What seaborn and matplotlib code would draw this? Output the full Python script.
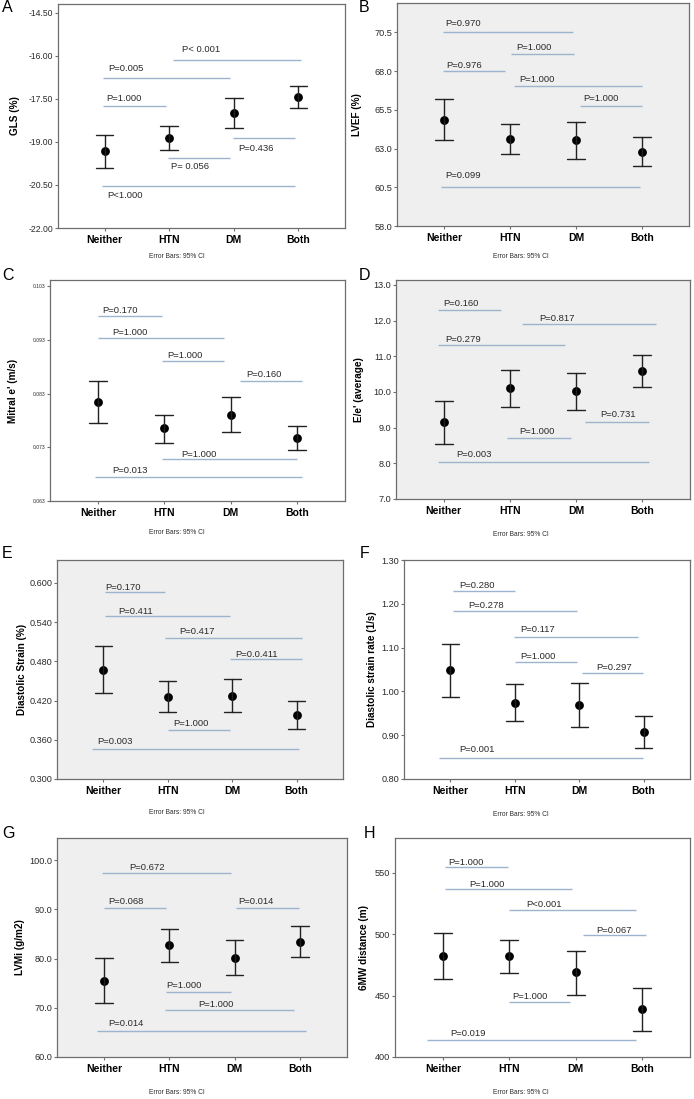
"""
plot.py
-------
Eight SPSS-style mean / 95% CI panels (A-H) comparing Neither, HTN, DM, Both
with the pairwise P-value brackets drawn over them.
"""

import matplotlib
matplotlib.use("Agg")
import matplotlib.pyplot as plt
import numpy as np
import pandas as pd
import seaborn as sns

# ── Data ──────────────────────────────────────────────────────────────────────
GROUPS = ["Neither", "HTN", "DM", "Both"]

# A  GLS (%)
GLS_MEAN  = [-19.33, -18.86, -17.99, -17.43]
GLS_LOW   = [-19.90, -19.29, -18.52, -17.80]
GLS_HIGH  = [-18.77, -18.44, -17.48, -17.06]
GLS_TICKS = [-22.0, -20.5, -19.0, -17.5, -16.0, -14.5]
# label, line y, line from, line to, text x, text y
GLS_P = [
    ("P< 0.001", -16.13, 1.06, 3.04, 1.20, -15.77),
    ("P=0.005",  -16.76, -0.02, 1.94, 0.06, -16.44),
    ("P=1.000",  -17.73, -0.02, 0.95, 0.03, -17.49),
    ("P=0.436",  -18.87, 1.98, 2.95, 2.07, -19.23),
    ("P= 0.056", -19.55, 0.98, 1.94, 1.03, -19.87),
    ("P<1.000",  -20.52, -0.04, 2.94, 0.04, -20.85),
]

# B  LVEF (%)
LVEF_MEAN  = [64.87, 63.63, 63.54, 62.78]
LVEF_LOW   = [63.54, 62.66, 62.33, 61.86]
LVEF_HIGH  = [66.19, 64.57, 64.72, 63.73]
LVEF_TICKS = [58.0, 60.5, 63.0, 65.5, 68.0, 70.5]
LVEF_P = [
    ("P=0.970", 70.54, -0.02, 1.95, 0.02, 71.08),
    ("P=1.000", 69.10, 1.02, 1.97, 1.09, 69.53),
    ("P=0.976", 68.00, -0.02, 0.92, 0.03, 68.35),
    ("P=1.000", 67.07, 1.06, 3.00, 1.14, 67.49),
    ("P=1.000", 65.78, 2.06, 3.00, 2.11, 66.23),
    ("P=0.099", 60.52, -0.05, 2.97, 0.02, 61.28),
]

# C  Mitral e' (m/s)
EPRIME_MEAN  = [0.0815, 0.0766, 0.0791, 0.0747]
EPRIME_LOW   = [0.0776, 0.0739, 0.0758, 0.0726]
EPRIME_HIGH  = [0.0853, 0.0791, 0.0823, 0.0769]
EPRIME_TICKS = [0.063, 0.073, 0.083, 0.093, 0.103]
EPRIME_P = [
    ("P=0.170", 0.0975, 0.00, 0.96, 0.07, 0.0986),
    ("P=1.000", 0.0934, 0.00, 1.90, 0.21, 0.0945),
    ("P=1.000", 0.0891, 0.97, 1.90, 1.05, 0.0902),
    ("P=0.160", 0.0854, 2.14, 3.07, 2.24, 0.0865),
    ("P=1.000", 0.0709, 0.97, 3.00, 1.26, 0.0717),
    ("P=0.013", 0.0674, -0.05, 3.07, 0.21, 0.0687),
]

# D  E/e' (average)
EE_MEAN  = [9.15, 10.11, 10.03, 10.59]
EE_LOW   = [8.53, 9.58, 9.50, 10.13]
EE_HIGH  = [9.75, 10.61, 10.54, 11.05]
EE_TICKS = [7.0, 8.0, 9.0, 10.0, 11.0, 12.0, 13.0]
EE_P = [
    ("P=0.160", 12.29, -0.09, 0.87, -0.01, 12.47),
    ("P=0.817", 11.90, 1.18, 3.20, 1.44, 12.06),
    ("P=0.279", 11.31, -0.09, 1.83, 0.03, 11.46),
    ("P=0.731", 9.17, 2.14, 3.10, 2.37, 9.36),
    ("P=1.000", 8.71, 0.96, 1.93, 1.14, 8.89),
    ("P=0.003", 8.04, -0.09, 3.10, 0.19, 8.24),
]

# E  Diastolic Strain (%)
DS_MEAN  = [0.467, 0.426, 0.427, 0.398]
DS_LOW   = [0.431, 0.403, 0.402, 0.376]
DS_HIGH  = [0.503, 0.450, 0.453, 0.419]
DS_TICKS = [0.300, 0.360, 0.420, 0.480, 0.540, 0.600]
DS_P = [
    ("P=0.170",   0.5868, 0.02, 0.96, 0.03, 0.5929),
    ("P=0.411",   0.5486, 0.02, 1.97, 0.23, 0.5568),
    ("P=0.417",   0.5151, 0.96, 3.08, 1.18, 0.5253),
    ("P=0.0.411", 0.4836, 1.96, 3.08, 2.04, 0.4912),
    ("P=1.000",   0.3753, 1.00, 1.97, 1.08, 0.3844),
    ("P=0.003",   0.3458, -0.18, 3.04, -0.09, 0.3575),
]

# F  Diastolic strain rate (1/s)
DSR_MEAN  = [1.048, 0.974, 0.969, 0.908]
DSR_LOW   = [0.988, 0.932, 0.918, 0.871]
DSR_HIGH  = [1.108, 1.016, 1.020, 0.944]
DSR_TICKS = [0.80, 0.90, 1.00, 1.10, 1.20, 1.30]
DSR_P = [
    ("P=0.280", 1.2286, 0.04, 1.00, 0.14, 1.2422),
    ("P=0.278", 1.1845, 0.04, 1.96, 0.27, 1.1951),
    ("P=0.117", 1.1252, 0.99, 2.91, 1.08, 1.1412),
    ("P=1.000", 1.0667, 1.01, 1.96, 1.08, 1.0804),
    ("P=0.297", 1.0416, 2.04, 2.99, 2.27, 1.0545),
    ("P=0.001", 0.8479, -0.17, 2.99, 0.14, 0.8684),
]

# G  LVMi (g/m2)
LVMI_MEAN  = [75.54, 82.70, 80.20, 83.45]
LVMI_LOW   = [71.01, 79.26, 76.62, 80.41]
LVMI_HIGH  = [80.07, 86.08, 83.78, 86.55]
LVMI_TICKS = [60.0, 70.0, 80.0, 90.0, 100.0]
LVMI_P = [
    ("P=0.672", 97.30, -0.03, 1.94, 0.39, 98.45),
    ("P=0.068", 90.20, 0.00, 0.95, 0.06, 91.62),
    ("P=0.014", 90.20, 2.02, 2.99, 2.06, 91.62),
    ("P=1.000", 73.18, 0.95, 1.94, 0.96, 74.46),
    ("P=1.000", 69.53, 0.94, 2.91, 1.44, 70.61),
    ("P=0.014", 65.34, -0.11, 3.09, 0.06, 66.89),
]

# H  6MW distance (m)
SMW_MEAN  = [482.0, 482.0, 469.1, 439.0]
SMW_LOW   = [463.4, 468.2, 450.6, 421.4]
SMW_HIGH  = [500.7, 495.6, 486.7, 456.1]
SMW_TICKS = [400, 450, 500, 550]
SMW_P = [
    ("P=1.000", 555.1, 0.04, 0.98, 0.08, 558.9),
    ("P=1.000", 536.7, 0.04, 1.95, 0.40, 540.5),
    ("P<0.001", 520.2, 0.99, 2.90, 1.26, 524.5),
    ("P=0.067", 499.6, 2.11, 3.06, 2.31, 503.4),
    ("P=1.000", 444.9, 0.99, 1.91, 1.04, 449.3),
    ("P=0.019", 413.8, -0.24, 2.90, 0.11, 419.5),
]

# ── Style ─────────────────────────────────────────────────────────────────────
W, H = 694, 1099
GREY_BG   = "#EFEFEF"
SPINE_C   = "#6E6E6E"
BRACKET_C = "#9DB4D0"
TEXT_C    = "#2A2A2A"

sns.set_theme(style="white")
plt.rcParams["font.family"] = ["Liberation Sans", "DejaVu Sans"]

# letter, ylabel, mean, low, high, ticks, tick fmt, ylim, brackets,
# grey bg, axes box px (l, t, r, b), ylabel x, tick size
PANELS = [
    ("A", "GLS (%)", GLS_MEAN, GLS_LOW, GLS_HIGH, GLS_TICKS, "{:.2f}",
     (-22.0, -14.19), GLS_P, False, (58, 4, 345, 228), -0.132, 6.2),
    ("B", "LVEF (%)", LVEF_MEAN, LVEF_LOW, LVEF_HIGH, LVEF_TICKS, "{:.1f}",
     (58.0, 72.4), LVEF_P, True, (397, 3, 689, 226), -0.12, 6.6),
    ("C", "Mitral e' (m/s)", EPRIME_MEAN, EPRIME_LOW, EPRIME_HIGH,
     EPRIME_TICKS, "{:.3f}", (0.063, 0.1042), EPRIME_P, False,
     (50, 280, 345, 501), -0.108, 3.6),
    ("D", "E/e' (average)", EE_MEAN, EE_LOW, EE_HIGH, EE_TICKS, "{:.1f}",
     (7.0, 13.14), EE_P, True, (396, 280, 690, 499), -0.109, 6.6),
    ("E", "Diastolic Strain (%)", DS_MEAN, DS_LOW, DS_HIGH, DS_TICKS,
     "{:.3f}", (0.300, 0.635), DS_P, True, (57, 560, 343, 779), -0.105, 6.6),
    ("F", "Diastolic strain rate (1/s)", DSR_MEAN, DSR_LOW, DSR_HIGH,
     DSR_TICKS, "{:.2f}", (0.80, 1.30), DSR_P, False,
     (404, 560, 690, 779), -0.094, 6.6),
    ("G", "LVMi (g/m2)", LVMI_MEAN, LVMI_LOW, LVMI_HIGH, LVMI_TICKS,
     "{:.1f}", (60.0, 104.5), LVMI_P, True, (57, 838, 347, 1057), -0.11, 6.6),
    ("H", "6MW distance (m)", SMW_MEAN, SMW_LOW, SMW_HIGH, SMW_TICKS,
     "{:.0f}", (400, 578.5), SMW_P, False, (395, 838, 690, 1057), -0.088, 6.6),
]

# panel letter (x, y) and "Error Bars" note (x, y), in pixels
LETTER_POS = [(2, 8), (359, 8), (2, 276), (359, 275),
              (2, 553), (360, 554), (2, 833), (364, 833)]
NOTE_POS   = [(177, 257), (521, 257), (177, 532), (521, 534),
              (177, 812), (521, 815), (177, 1092), (521, 1092)]


def draw_panel(ax, mean, low, high, ticks, fmt, ylim, brackets,
               ylabel, grey, label_x, tick_size):
    # lo / mean / hi per group -> median is the mean, min-max is the CI
    df = pd.DataFrame({
        "group": np.repeat(GROUPS, 3),
        "value": np.column_stack([low, mean, high]).ravel(),
    })
    sns.pointplot(
        data       = df,
        x          = "group",
        y          = "value",
        order      = GROUPS,
        estimator  = "median",
        errorbar   = lambda v: (v.min(), v.max()),
        capsize    = 0.27,
        color      = "black",
        linestyle  = "none",
        marker     = "o",
        markersize = 4.3,
        err_kws    = {"linewidth": 1.0, "color": "#222222"},
        ax         = ax,
    )

    for label, ly, x0, x1, tx, ty in brackets:
        ax.hlines(ly, x0, x1, color=BRACKET_C, linewidth=1.0, zorder=1)
        ax.text(tx, ty, label, fontsize=6.8, color=TEXT_C, va="center")

    ax.set_facecolor(GREY_BG if grey else "white")
    ax.set_xlim(-0.72, 3.72)
    ax.set_ylim(*ylim)
    ax.set_yticks(ticks)
    ax.set_yticklabels([fmt.format(t) for t in ticks])
    ax.set_xlabel("")
    ax.set_ylabel(ylabel, fontsize=7.2, fontweight="bold", color="black")
    ax.yaxis.set_label_coords(label_x, 0.5)

    for s in ax.spines.values():
        s.set_color(SPINE_C)
        s.set_linewidth(0.9)
    ax.tick_params(axis="y", left=True, length=2.5, width=0.8, color=SPINE_C,
                   labelsize=tick_size, labelcolor=TEXT_C, pad=1)
    ax.tick_params(axis="x", bottom=True, length=2, width=0.8, color=SPINE_C,
                   labelsize=7.5, labelcolor="black", pad=3)
    for t in ax.get_xticklabels():
        t.set_fontweight("bold")


# ── Figure ────────────────────────────────────────────────────────────────────
fig = plt.figure(figsize=(W / 100, H / 100), dpi=100)

for i, (letter, ylabel, mean, low, high, ticks, fmt, ylim, brackets,
        grey, box, label_x, tick_size) in enumerate(PANELS):
    l, t, r, b = box
    ax = fig.add_axes([l / W, 1 - b / H, (r - l) / W, (b - t) / H])
    draw_panel(ax, mean, low, high, ticks, fmt, ylim, brackets,
               ylabel, grey, label_x, tick_size)

    lx, ly = LETTER_POS[i]
    fig.text(lx / W, 1 - ly / H, letter, fontsize=11.5, va="center",
             ha="left", color="black")
    nx, ny = NOTE_POS[i]
    fig.text(nx / W, 1 - ny / H, "Error Bars: 95% CI", fontsize=4.8,
             va="center", ha="center", color=TEXT_C)

fig.savefig("out.png", dpi=100)
plt.close(fig)
